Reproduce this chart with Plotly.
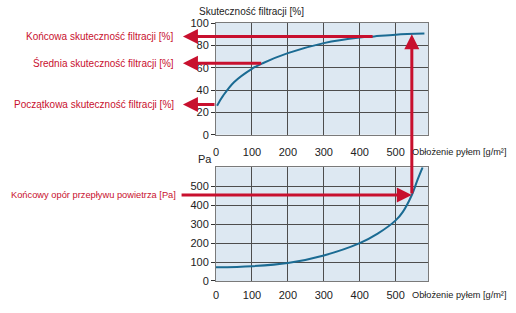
import plotly.graph_objects as go

# ---- data ----
eff_x = [3, 10, 20, 50, 100, 130, 200, 300, 400, 440, 500, 580]
eff_y = [26, 30, 35, 47, 59, 64, 73, 82, 87, 88, 89.5, 90.5]

dp_x = [0, 100, 200, 300, 400, 450, 500, 520, 545, 560, 575]
dp_y = [72, 78, 95, 135, 200, 250, 320, 365, 454, 530, 600]

x_ticks = [0, 100, 200, 300, 400, 500]
eff_ticks = [0, 20, 40, 60, 80, 100]
dp_ticks = [0, 100, 200, 300, 400, 500]

eff_initial = 27
eff_mean = 64
eff_mean_x = 130
eff_final = 88
eff_final_x = 440
end_load = 545
end_eff = 90
end_dp = 454

lbl_final = "Końcowa skuteczność filtracji [%]"
lbl_mean = "Średnia skuteczność filtracji [%]"
lbl_init = "Początkowa skuteczność filtracji [%]"
lbl_dp = "Końcowy opór przepływu powietrza [Pa]"
title_eff = "Skuteczność filtracji [%]"
title_x = "Obłożenie pyłem [g/m²]"
title_pa = "Pa"

# ---- style ----
RED = "#c8102e"
CURVE = "#1b6b93"
BG = "#dde8f2"
GRID = "#4d4d4d"
FONT = "Liberation Sans, Arial"
TXT = 10
XR = [0, 590]
D1 = [0.567, 1.0]
D2 = [0.0, 0.4406]
ARROW_LEFT_X = -92
TEXT_RIGHT = -0.189

fig = go.Figure()
fig.add_trace(go.Scatter(x=eff_x, y=eff_y, mode="lines", line=dict(color=CURVE, width=2, shape="spline"),
                         xaxis="x", yaxis="y", showlegend=False, hoverinfo="skip"))
fig.add_trace(go.Scatter(x=dp_x, y=dp_y, mode="lines", line=dict(color=CURVE, width=2, shape="spline"),
                         xaxis="x2", yaxis="y2", showlegend=False, hoverinfo="skip"))

axis_common = dict(showgrid=True, gridcolor=GRID, gridwidth=1, showline=True, linecolor="#7a7a7a",
                   linewidth=1, mirror=True, zeroline=False, tickfont=dict(family=FONT, size=11, color="#222"))

fig.update_layout(
    width=516, height=313,
    margin=dict(l=216, r=88, t=23, b=29),
    paper_bgcolor="white", plot_bgcolor=BG,
    font=dict(family=FONT, size=11, color="#222"),
    xaxis=dict(domain=[0, 1], anchor="y", range=XR, tickvals=x_ticks, ticks="", ticklabelstandoff=7, **axis_common),
    yaxis=dict(domain=D1, anchor="x", range=[0, 100], tickvals=eff_ticks, ticks="outside", ticklen=4,
               tickcolor="#333", **axis_common),
    xaxis2=dict(domain=[0, 1], anchor="y2", range=XR, tickvals=x_ticks, ticks="", ticklabelstandoff=4, **axis_common),
    yaxis2=dict(domain=D2, anchor="x2", range=[0, 600], tickvals=dp_ticks, ticks="outside", ticklen=4,
                tickcolor="#333", **axis_common),
)

anns = []
arrow = dict(showarrow=True, arrowcolor=RED, arrowwidth=3, arrowhead=2, arrowsize=1, text="", standoff=0)

# left-pointing arrows (top plot)
for yv, tail_x in [(eff_final, eff_final_x), (eff_mean, eff_mean_x), (eff_initial, 0)]:
    anns.append(dict(x=ARROW_LEFT_X, y=yv, xref="x", yref="y", ax=tail_x, ay=yv, axref="x", ayref="y", **arrow))

# labels
for txt, yv in [(lbl_final, eff_final), (lbl_mean, eff_mean), (lbl_init, eff_initial)]:
    anns.append(dict(x=TEXT_RIGHT, y=yv, xref="paper", yref="y", text=txt, showarrow=False, xanchor="right",
                     yanchor="middle", font=dict(family=FONT, size=TXT, color=RED)))
anns.append(dict(x=TEXT_RIGHT, y=end_dp, xref="paper", yref="y2", text=lbl_dp, showarrow=False, xanchor="right",
                 xshift=2, yanchor="middle", font=dict(family=FONT, size=9.3, color=RED)))

# right-pointing arrow in bottom plot
anns.append(dict(x=end_load, y=end_dp, xref="x2", yref="y2", ax=-100, ay=end_dp, axref="x2", ayref="y2", **arrow))

# vertical arrow from bottom curve point to top curve point
paper_y = D2[0] + end_dp / 600 * (D2[1] - D2[0])
tail_y1 = (paper_y - D1[0]) / (D1[1] - D1[0]) * 100
anns.append(dict(x=end_load, y=end_eff, xref="x", yref="y", ax=end_load, ay=tail_y1, axref="x", ayref="y", **arrow))

# titles
anns.append(dict(x=-0.09, y=1, xref="paper", yref="paper", yanchor="bottom", xanchor="left", yshift=4,
                 text=title_eff, showarrow=False, font=dict(family=FONT, size=TXT, color="#222")))
anns.append(dict(x=1.0, y=0, xref="paper", yref="y", yanchor="top", xanchor="left", xshift=-18, yshift=-10,
                 text=title_x, showarrow=False, font=dict(family=FONT, size=9.2, color="#222")))
anns.append(dict(x=1.0, y=0, xref="paper", yref="y2", yanchor="top", xanchor="left", xshift=-18, yshift=-7,
                 text=title_x, showarrow=False, font=dict(family=FONT, size=9.2, color="#222")))
anns.append(dict(x=0, y=D2[1], xref="paper", yref="paper", yanchor="bottom", xanchor="right", xshift=-2, yshift=0,
                 text=title_pa, showarrow=False, font=dict(family=FONT, size=11, color="#222")))

fig.update_layout(annotations=anns)
fig.write_html("out.html")
